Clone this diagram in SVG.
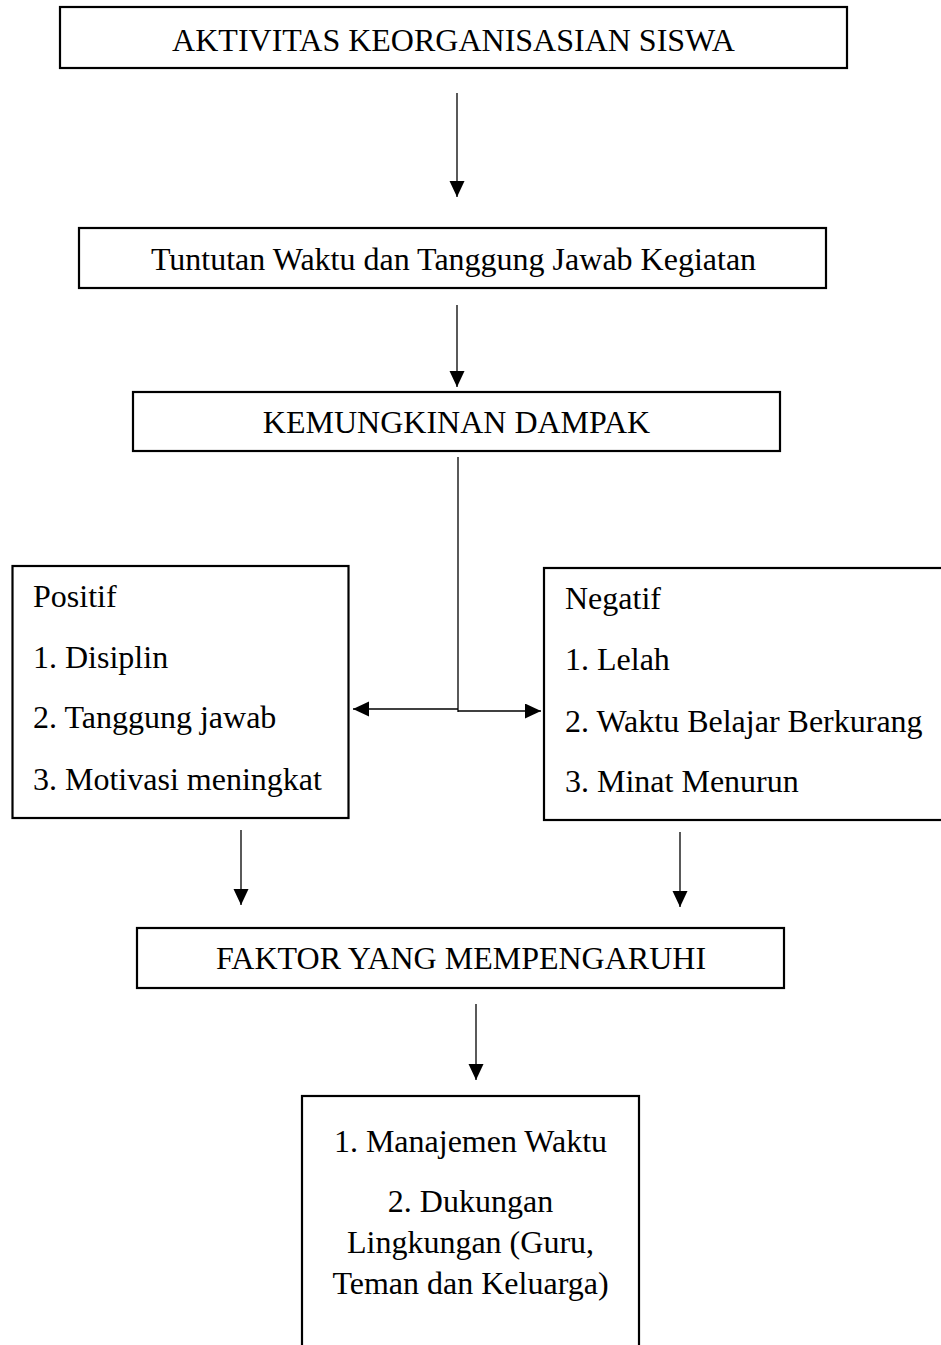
<svg xmlns="http://www.w3.org/2000/svg" width="941" height="1345" viewBox="0 0 941 1345">
<style>
.box{fill:#fff;stroke:#000;stroke-width:2.2}
.t{font-family:"Liberation Serif","Times New Roman",serif;font-size:32px;fill:#000}
.c{text-anchor:middle}
.ln{stroke:#000;stroke-width:1.3;fill:none}
</style>
<defs>
<marker id="ah" markerUnits="userSpaceOnUse" markerWidth="16" markerHeight="16" refX="16" refY="7.5" orient="auto">
<path d="M0,0 L16,7.5 L0,15 z" fill="#000"/>
</marker>
</defs>
<rect width="941" height="1345" fill="#fff"/>
<g id="connectors">
<line class="ln" x1="457" y1="93" x2="457" y2="197" marker-end="url(#ah)"/>
<line class="ln" x1="457" y1="305" x2="457" y2="387" marker-end="url(#ah)"/>
<line class="ln" x1="458" y1="457" x2="458" y2="712"/>
<line class="ln" x1="458" y1="709" x2="353" y2="709" marker-end="url(#ah)"/>
<line class="ln" x1="458" y1="711" x2="541" y2="711" marker-end="url(#ah)"/>
<line class="ln" x1="241" y1="830" x2="241" y2="905" marker-end="url(#ah)"/>
<line class="ln" x1="680" y1="832" x2="680" y2="907" marker-end="url(#ah)"/>
<line class="ln" x1="476" y1="1004" x2="476" y2="1080" marker-end="url(#ah)"/>
</g>
<g id="n1">
<rect class="box" x="60" y="7" width="787" height="61"/>
<text class="t c" x="453.5" y="51">AKTIVITAS KEORGANISASIAN SISWA</text>
</g>
<g id="n2">
<rect class="box" x="79" y="228" width="747" height="60"/>
<text class="t c" x="453.5" y="270">Tuntutan Waktu dan Tanggung Jawab Kegiatan</text>
</g>
<g id="n3">
<rect class="box" x="133" y="392" width="647" height="59"/>
<text class="t c" x="456.5" y="433">KEMUNGKINAN DAMPAK</text>
</g>
<g id="n4">
<rect class="box" x="12.5" y="566" width="336" height="252"/>
<text class="t" x="33" y="607">Positif</text>
<text class="t" x="33" y="668">1. Disiplin</text>
<text class="t" x="33" y="728">2. Tanggung jawab</text>
<text class="t" x="33" y="790">3. Motivasi meningkat</text>
</g>
<g id="n5">
<rect class="box" x="544" y="568" width="405" height="252"/>
<text class="t" x="565" y="609">Negatif</text>
<text class="t" x="565" y="670">1. Lelah</text>
<text class="t" x="565" y="732">2. Waktu Belajar Berkurang</text>
<text class="t" x="565" y="792">3. Minat Menurun</text>
</g>
<g id="n6">
<rect class="box" x="137" y="928" width="647" height="60"/>
<text class="t c" x="461" y="969">FAKTOR YANG MEMPENGARUHI</text>
</g>
<g id="n7">
<rect class="box" x="302" y="1096" width="337" height="260"/>
<text class="t c" x="470.5" y="1152">1. Manajemen Waktu</text>
<text class="t c" x="470.5" y="1212">2. Dukungan</text>
<text class="t c" x="470.5" y="1253">Lingkungan (Guru,</text>
<text class="t c" x="470.5" y="1294">Teman dan Keluarga)</text>
</g>
</svg>
